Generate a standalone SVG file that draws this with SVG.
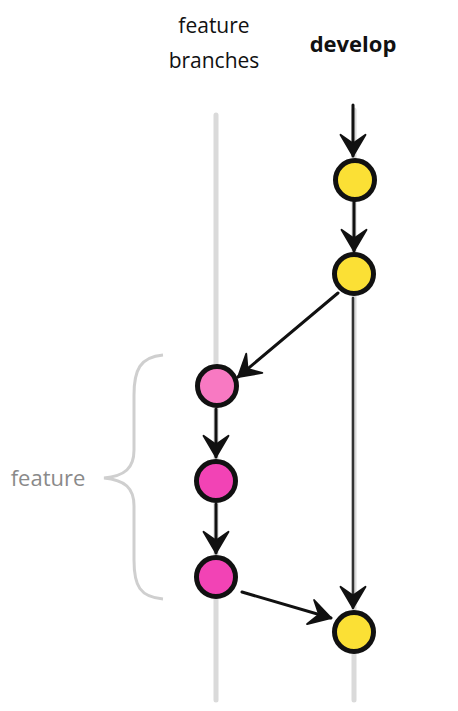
<svg xmlns="http://www.w3.org/2000/svg" width="458" height="711" viewBox="0 0 458 711">
<style>
.lbl{font-family:"Open Sans","Liberation Sans",sans-serif;font-size:21px;fill:#111;text-anchor:middle}
.bold{font-weight:bold;font-size:22px}
.side{font-family:"Open Sans","Liberation Sans",sans-serif;font-size:22px;fill:#8a8a8a;text-anchor:middle}
.lane{stroke:#dadada;stroke-width:5;fill:none;stroke-linecap:round}
.conn{stroke:#111;stroke-width:3;fill:none;stroke-linecap:round}
.node{stroke:#111;stroke-width:5}
.yellow{fill:#fbe035}
.pink1{fill:#f879c2}
.pink2{fill:#f243b5}
</style>
<defs>
<marker id="arr" markerUnits="userSpaceOnUse" markerWidth="30" markerHeight="30" viewBox="-20 -12 24 24" refX="0" refY="0" orient="auto">
<path d="M0,0 L-17,-10 L-10,0 L-17,10 Z" fill="#111" stroke="#111" stroke-width="1.5" stroke-linejoin="round"/>
</marker>
</defs>
<g id="labels">
<text class="lbl" x="214" y="33">feature</text>
<text class="lbl" x="214" y="68">branches</text>
<text class="lbl bold" x="353" y="52">develop</text>
</g>
<g id="lanes">
<line class="lane" x1="216" y1="115" x2="216" y2="700"/>
<line class="lane" x1="354" y1="110" x2="354" y2="700"/>
</g>
<g id="brace">
<path d="M163,355 C140,357 134,370 134,395 L134,450 C134,468 125,476 104,478 C125,480 134,488 134,506 L134,560 C134,586 140,597 163,599" fill="none" stroke="#cfcfcf" stroke-width="3"/>
<text class="side" x="48" y="486">feature</text>
</g>
<g id="connectors">
<line class="conn" x1="353" y1="105" x2="353" y2="156" marker-end="url(#arr)"/>
<line class="conn" x1="354" y1="201" x2="354" y2="251" marker-end="url(#arr)"/>
<line class="conn" x1="338" y1="293" x2="238" y2="377" marker-end="url(#arr)"/>
<line class="conn" x1="216" y1="409" x2="216" y2="457" marker-end="url(#arr)"/>
<line class="conn" x1="216" y1="504" x2="216" y2="553" marker-end="url(#arr)"/>
<line class="conn" x1="242" y1="592" x2="331" y2="618" marker-end="url(#arr)"/>
<line class="conn" x1="353" y1="298" x2="353" y2="608" marker-end="url(#arr)" style="stroke:#333;stroke-width:2.5"/>
</g>
<g id="develop-1"><circle class="node yellow" cx="355" cy="180" r="19.5"/></g>
<g id="develop-2"><circle class="node yellow" cx="354" cy="274" r="19.5"/></g>
<g id="feature-1"><circle class="node pink1" cx="217" cy="386" r="19.5"/></g>
<g id="feature-2"><circle class="node pink2" cx="216" cy="481" r="19.5"/></g>
<g id="feature-3"><circle class="node pink2" cx="216" cy="577" r="19.5"/></g>
<g id="develop-3"><circle class="node yellow" cx="354" cy="632" r="19.5"/></g>
</svg>
